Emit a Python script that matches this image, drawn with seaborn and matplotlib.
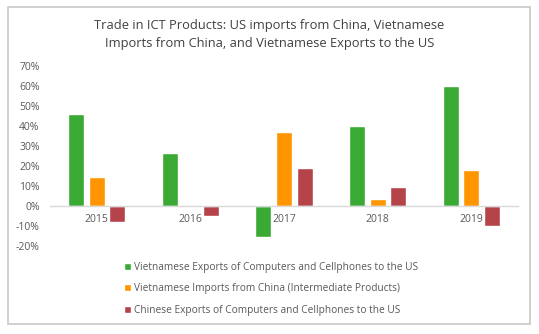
import matplotlib
matplotlib.use("Agg")
import matplotlib.pyplot as plt
import matplotlib.patches as mpatches
from matplotlib.ticker import FuncFormatter
import seaborn as sns
import pandas as pd

years = ["2015", "2016", "2017", "2018", "2019"]
series = [
    "Vietnamese Exports of Computers and Cellphones to the US",
    "Vietnamese Imports from China (Intermediate Products)",
    "Chinese Exports of Computers and Cellphones to the US",
]
vn_exports = [46, 26.5, -15.5, 40, 60]
vn_imports = [14.5, -0.7, 37, 3.3, 18]
cn_exports = [-8, -5, 19, 9.7, -10]
colors = ["#3aaa35", "#ff9500", "#b5444a"]

rows = []
for s, vals in zip(series, [vn_exports, vn_imports, cn_exports]):
    for y, v in zip(years, vals):
        rows.append({"Year": y, "Series": s, "Value": v})
df = pd.DataFrame(rows)

sns.set_theme(style="white")
plt.rcParams["font.family"] = ["Open Sans", "DejaVu Sans"]

fig = plt.figure(figsize=(5.39, 3.34), dpi=100)
ax = fig.add_axes([50 / 539, 1 - 246 / 334, 468 / 539, 180 / 334])

sns.barplot(data=df, x="Year", y="Value", hue="Series", palette=colors,
            width=0.66, gap=0.23, ax=ax, saturation=1, legend=True)

ax.set_ylim(-20, 70)
ax.set_xlim(-0.5, 4.5)
ax.set_yticks(range(-20, 71, 10))
ax.yaxis.set_major_formatter(FuncFormatter(lambda v, p: f"{int(v)}%"))
ax.set_xlabel("")
ax.set_ylabel("")
for sp in ["top", "right", "left"]:
    ax.spines[sp].set_visible(False)
ax.spines["bottom"].set_position(("data", 0))
ax.spines["bottom"].set_color("#d9d9d9")
ax.spines["bottom"].set_linewidth(1)
ax.tick_params(axis="both", length=0, labelsize=7.5, colors="#595959")
ax.tick_params(axis="y", pad=7.5)
ax.tick_params(axis="x", pad=6)

handles, labels = ax.get_legend_handles_labels()
ax.get_legend().remove()
fig.legend(handles, labels, loc="upper left",
           bbox_to_anchor=(124 / 539, 1 - 262 / 334),
           frameon=False, fontsize=7.3, labelcolor="#595959",
           handlelength=0.65, handleheight=0.65, handletextpad=0.35,
           labelspacing=1.02, borderaxespad=0, borderpad=0)

fig.text(0.5, 1 - 34 / 334,
         "Trade in ICT Products: US imports from China, Vietnamese\nImports from China, and Vietnamese Exports to the US",
         ha="center", va="center", fontsize=9.3, color="#404040", linespacing=1.5)

frame = mpatches.Rectangle((8 / 539, 1 - 324 / 334), 522 / 539, 317 / 334,
                           transform=fig.transFigure, fill=False,
                           edgecolor="#c8c8c8", linewidth=1.2)
fig.patches.append(frame)

fig.savefig("out.png", dpi=100)
